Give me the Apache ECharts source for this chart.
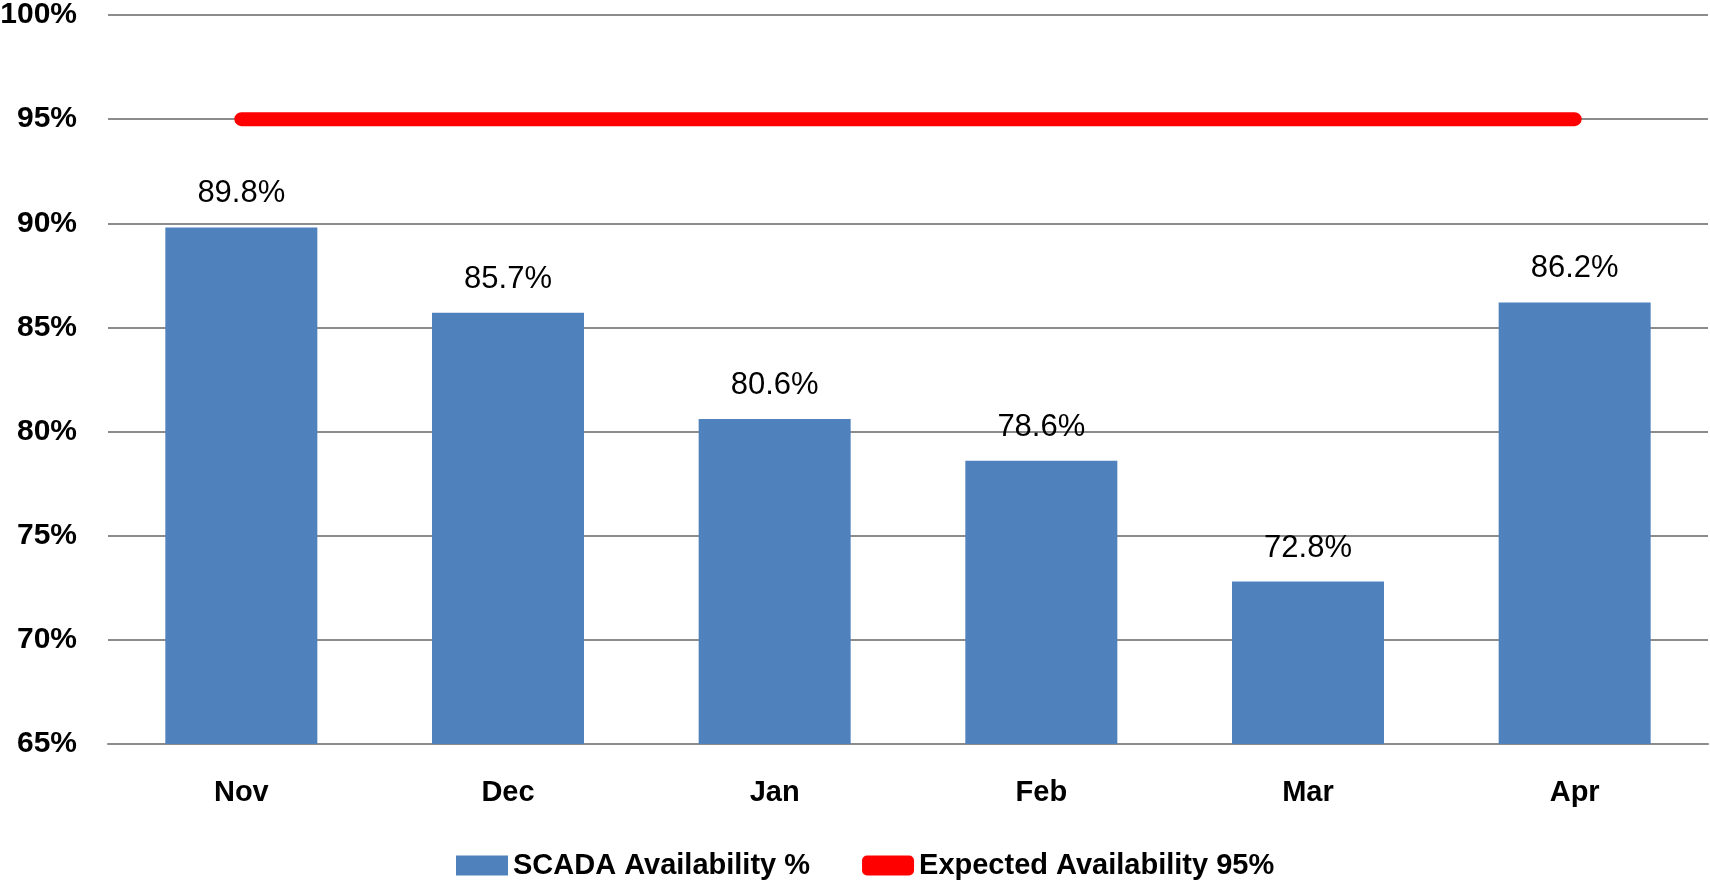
<!DOCTYPE html>
<html>
<head>
<meta charset="utf-8">
<script src="https://cdn.jsdelivr.net/npm/echarts@6/dist/echarts.min.js"></script>
<style>
html,body{margin:0;padding:0;background:#fff;}
#chart{width:1710px;height:881px;}
</style>
</head>
<body>
<div id="chart"></div>
<script>
var categories = ['Nov', 'Dec', 'Jan', 'Feb', 'Mar', 'Apr'];
var availability = [89.8, 85.7, 80.6, 78.6, 72.8, 86.2];
var expected = [95, 95, 95, 95, 95, 95];
var seriesNames = ['SCADA Availability %', 'Expected Availability 95%'];

var chart = echarts.init(document.getElementById('chart'));
var FONT = '"Liberation Sans", Arial, sans-serif';
chart.setOption({
  animation: false,
  backgroundColor: '#ffffff',
  grid: { left: 108, right: 2, top: 15, bottom: 137, containLabel: false, outerBoundsMode: 'none' },
  legend: {
    left: 451,
    top: 846,
    itemWidth: 52,
    itemHeight: 20,
    itemGap: 52,
    textStyle: { fontFamily: FONT, fontSize: 29, fontWeight: 'bold', color: '#000' },
    data: [
      { name: seriesNames[0], icon: 'rect' },
      { name: seriesNames[1], icon: 'roundRect', itemStyle: { color: '#ff0000' } }
    ]
  },
  xAxis: {
    type: 'category',
    data: categories,
    axisTick: { show: false },
    axisLine: { show: true, lineStyle: { color: '#8c8c8c', width: 2 } },
    axisLabel: { margin: 34, fontFamily: FONT, fontSize: 29, fontWeight: 'bold', color: '#000' }
  },
  yAxis: {
    type: 'value',
    min: 65,
    max: 100,
    interval: 5,
    axisLine: { show: false },
    axisTick: { show: false },
    splitLine: { lineStyle: { color: '#8c8c8c', width: 2 } },
    axisLabel: {
      margin: 31,
      fontFamily: FONT, fontSize: 30, fontWeight: 'bold', color: '#000',
      formatter: function (v) { return v + '%'; }
    }
  },
  series: [
    {
      name: seriesNames[0],
      type: 'bar',
      data: availability,
      barWidth: '57%',
      itemStyle: { color: '#4f81bd' },
      label: {
        show: true,
        position: 'top',
        distance: 18,
        fontFamily: FONT,
        fontSize: 31,
        color: '#000',
        formatter: function (p) { return p.value.toFixed(1) + '%'; }
      }
    },
    {
      name: seriesNames[1],
      type: 'line',
      data: expected,
      showSymbol: false,
      symbol: 'none',
      lineStyle: { color: '#ff0000', width: 14, cap: 'round' },
      itemStyle: { color: '#ff0000' },
      z: 5
    }
  ]
});
</script>
</body>
</html>
